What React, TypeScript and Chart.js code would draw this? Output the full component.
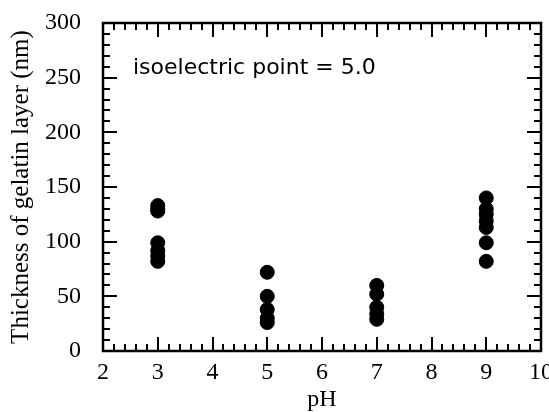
import React, { useEffect, useRef } from "react";
import { Chart, registerables } from "chart.js";

Chart.register(...registerables);

const ph3 = [133, 130, 128, 99, 92, 87, 82];
const ph5 = [72, 50, 38, 30, 26];
const ph7 = [60, 52, 40, 34, 29];
const ph9 = [140, 130, 125, 119, 113, 99, 82];
const groups: [number, number[]][] = [
  [3, ph3],
  [5, ph5],
  [7, ph7],
  [9, ph9],
];
const xTickValues = [2, 3, 4, 5, 6, 7, 8, 9, 10];
const yTickValues = [0, 50, 100, 150, 200, 250, 300];
const annotation = "isoelectric point = 5.0";
const xTitle = "pH";
const yTitle = "Thickness of gelatin layer (nm)";

const framePlugin = {
  id: "frameTicks",
  afterDraw(chart: any) {
    const { ctx, chartArea } = chart;
    const xs = chart.scales.x;
    const ys = chart.scales.y;
    const { left, right, top, bottom } = chartArea;
    ctx.save();
    ctx.strokeStyle = "#000";
    ctx.lineWidth = 2.5;
    ctx.strokeRect(left, top, right - left, bottom - top);
    ctx.lineWidth = 2;
    const major = 14;
    const minor = 7;
    ctx.beginPath();
    for (let i = 0; i <= 40; i++) {
      const v = xs.min + (i * (xs.max - xs.min)) / 40;
      const px = Math.round(xs.getPixelForValue(v));
      const len = i % 5 === 0 ? major : minor;
      ctx.moveTo(px, bottom);
      ctx.lineTo(px, bottom - len);
      ctx.moveTo(px, top);
      ctx.lineTo(px, top + len);
    }
    for (let i = 0; i <= 30; i++) {
      const v = ys.min + (i * (ys.max - ys.min)) / 30;
      const py = Math.round(ys.getPixelForValue(v));
      const len = i % 5 === 0 ? major : minor;
      ctx.moveTo(left, py);
      ctx.lineTo(left + len, py);
      ctx.moveTo(right, py);
      ctx.lineTo(right - len, py);
    }
    ctx.stroke();
    ctx.fillStyle = "#000";
    ctx.font = "22px 'DejaVu Sans'";
    ctx.textBaseline = "middle";
    ctx.textAlign = "left";
    ctx.fillText(annotation, left + 30, top + 45);
    ctx.restore();
  },
};

export default function App() {
  const ref = useRef<HTMLCanvasElement>(null);
  useEffect(() => {
    if (!ref.current) return;
    const data = groups.flatMap(([x, vals]) => vals.map((y) => ({ x, y })));
    const chart = new Chart(ref.current, {
      type: "scatter",
      data: {
        datasets: [
          {
            data,
            backgroundColor: "#000",
            borderColor: "#000",
            pointRadius: 7,
            pointHoverRadius: 7,
          },
        ],
      },
      options: {
        animation: false,
        responsive: false,
        layout: { padding: { top: 23, right: 6, left: 0, bottom: 0 } },
        plugins: { legend: { display: false }, tooltip: { enabled: false } },
        scales: {
          x: {
            type: "linear",
            min: 2,
            max: 10,
            afterBuildTicks: (s: any) => {
              s.ticks = xTickValues.map((v) => ({ value: v }));
            },
            afterFit: (s: any) => {
              s.height = 61;
              s.paddingLeft = 0;
              s.paddingRight = 0;
            },
            grid: { display: false, drawTicks: false },
            border: { display: false },
            ticks: {
              color: "#000",
              padding: 7,
              maxRotation: 0,
              font: { family: "'Liberation Serif'", size: 24 },
            },
            title: {
              display: true,
              text: xTitle,
              color: "#000",
              padding: 0,
              font: { family: "'Liberation Serif'", size: 24, lineHeight: 1 },
            },
          },
          y: {
            type: "linear",
            min: 0,
            max: 300,
            afterBuildTicks: (s: any) => {
              s.ticks = yTickValues.map((v) => ({ value: v }));
            },
            afterFit: (s: any) => {
              s.width = 103;
              s.paddingTop = 0;
              s.paddingBottom = 0;
            },
            grid: { display: false, drawTicks: false },
            border: { display: false },
            ticks: {
              color: "#000",
              padding: 22,
              font: { family: "'Liberation Serif'", size: 24 },
            },
            title: {
              display: true,
              text: yTitle,
              color: "#000",
              padding: { top: 9, bottom: 0 },
              font: { family: "'Liberation Serif'", size: 25, lineHeight: 1 },
            },
          },
        },
      },
      plugins: [framePlugin],
    });
    return () => chart.destroy();
  }, []);
  return (
    <div style={{ position: "fixed", left: 0, top: 0, width: 549, height: 412, background: "#fff" }}>
      <canvas ref={ref} width={549} height={412} style={{ width: 549, height: 412 }} />
    </div>
  );
}
